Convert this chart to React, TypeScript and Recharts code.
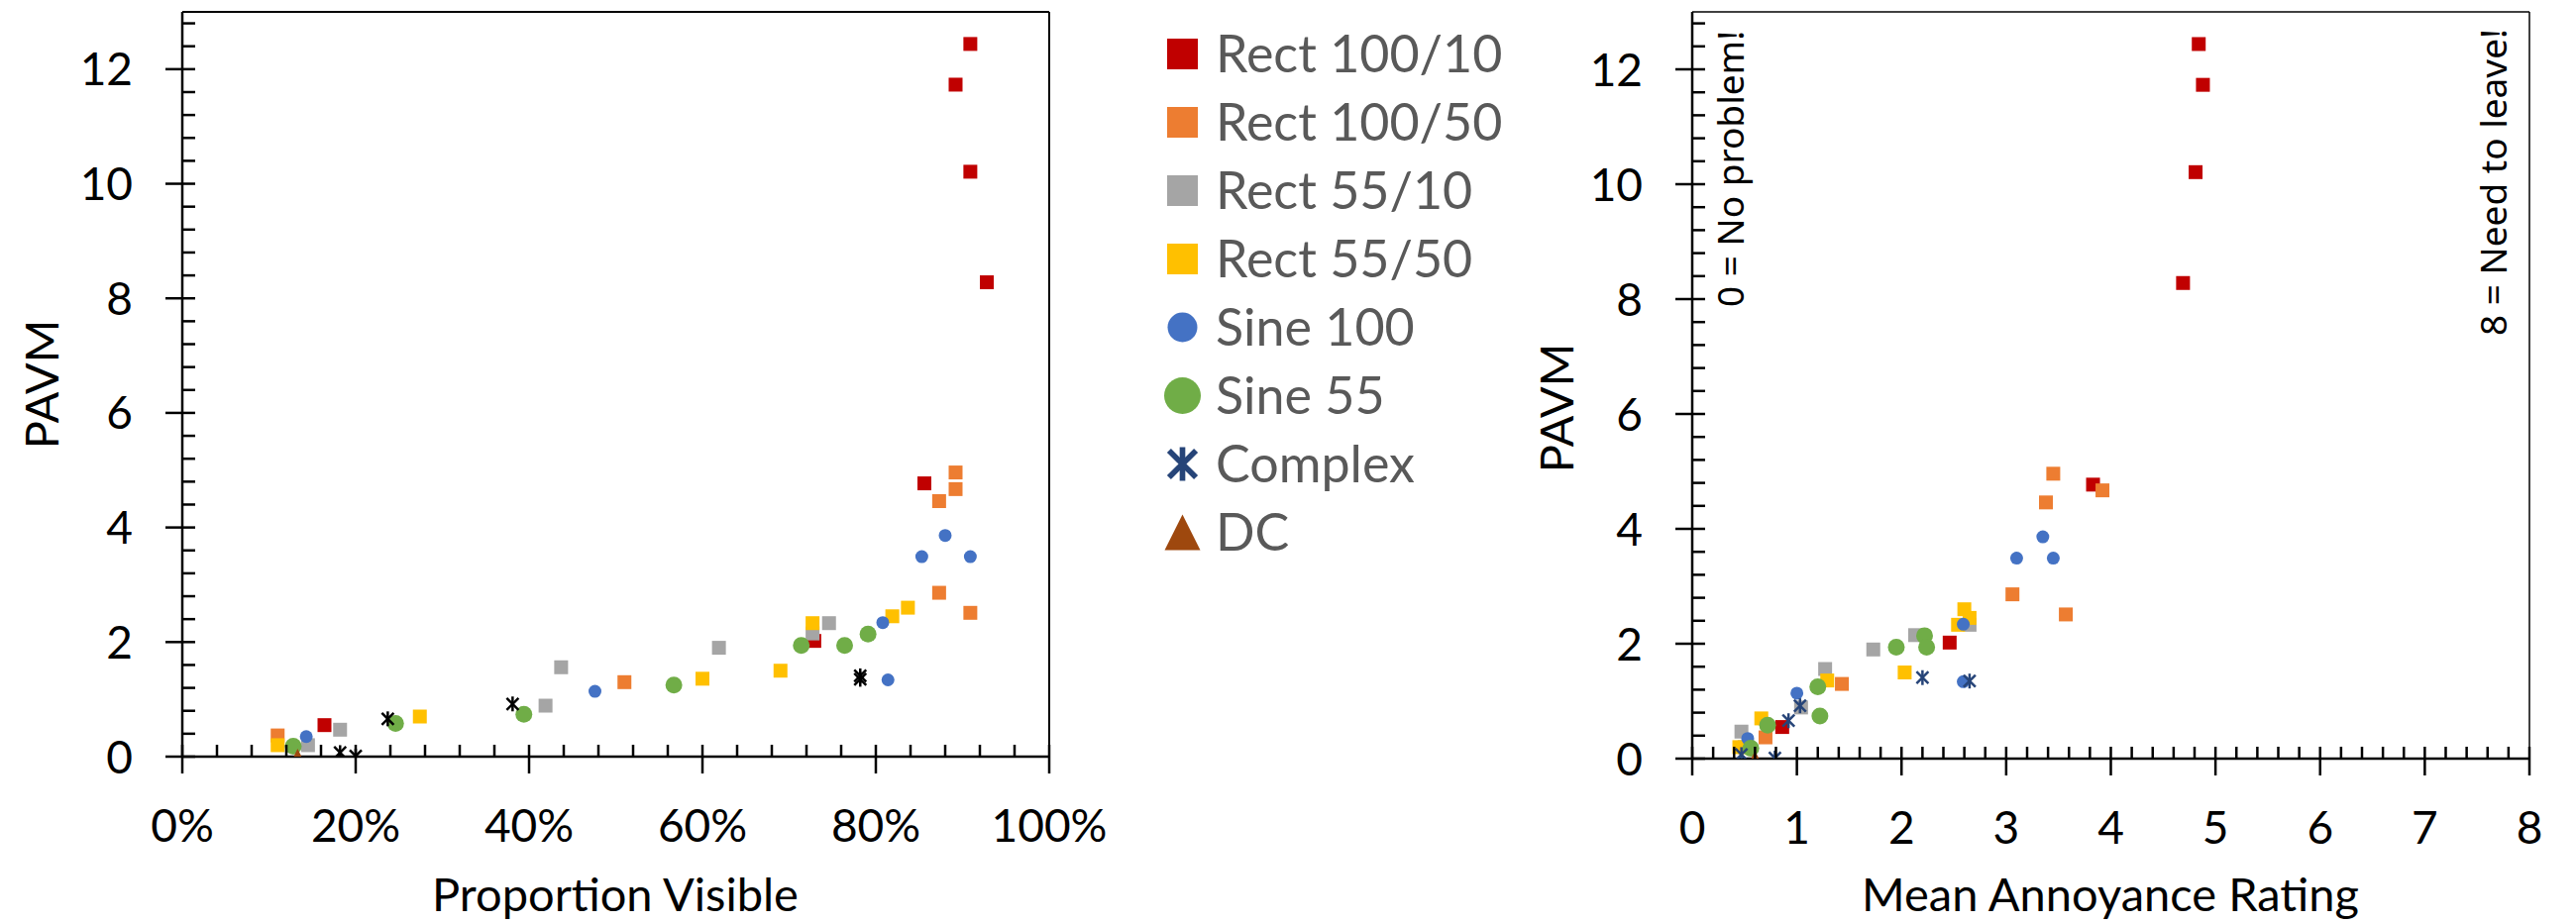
import React from 'react';
import { ScatterChart, Scatter, XAxis, YAxis, ReferenceLine, Customized } from 'recharts';

// ---------- data ----------
const seriesNames = ['Rect 100/10', 'Rect 100/50', 'Rect 55/10', 'Rect 55/50', 'Sine 100', 'Sine 55', 'Complex', 'DC'];

// Rect 100/10
const rect100x10Visible = [90.9, 89.2, 90.9, 92.8, 85.6, 72.9, 16.4];
const rect100x10Rating = [4.84, 4.88, 4.81, 4.69, 3.83, 2.46, 0.86];
const rect100x10Pavm = [12.44, 11.73, 10.21, 8.28, 4.77, 2.02, 0.55];
// Rect 100/50
const rect100x50Visible = [89.2, 89.2, 87.3, 87.3, 90.9, 51.0, 11.0];
const rect100x50Rating = [3.45, 3.92, 3.38, 3.06, 3.57, 1.43, 0.7];
const rect100x50Pavm = [4.96, 4.67, 4.46, 2.86, 2.51, 1.3, 0.37];
// Rect 55/10
const rect55x10Visible = [74.6, 72.7, 61.9, 43.7, 41.9, 18.2, 14.5];
const rect55x10Rating = [2.65, 2.13, 1.73, 1.27, 1.04, 0.47, 0.5];
const rect55x10Pavm = [2.33, 2.15, 1.9, 1.56, 0.89, 0.47, 0.2];
// Rect 55/50
const rect55x50Visible = [83.7, 81.9, 72.7, 69.0, 60.0, 27.4, 11.0];
const rect55x50Rating = [2.6, 2.65, 2.54, 2.03, 1.29, 0.66, 0.45];
const rect55x50Pavm = [2.6, 2.45, 2.33, 1.5, 1.36, 0.7, 0.2];
// Sine 100
const sine100Visible = [88.0, 85.3, 90.9, 80.8, 81.4, 47.6, 14.3];
const sine100Rating = [3.35, 3.1, 3.45, 2.59, 2.59, 1.0, 0.53];
const sine100Pavm = [3.86, 3.49, 3.49, 2.34, 1.34, 1.14, 0.35];
// Sine 55
const sine55Visible = [79.1, 71.4, 76.4, 56.7, 39.4, 24.6, 12.8];
const sine55Rating = [2.22, 1.95, 2.24, 1.2, 1.22, 0.72, 0.56];
const sine55Pavm = [2.14, 1.94, 1.94, 1.25, 0.74, 0.58, 0.18];
// Complex
const complexVisible = [78.2, 78.2, 38.1, 23.7, 18.2, 20.0];
const complexRating = [2.2, 2.65, 1.03, 0.92, 0.47, 0.79];
const complexPavm = [1.41, 1.35, 0.92, 0.66, 0.07, 0.01];
// DC
const dcVisible = [13.3];
const dcRating = [0.6];
const dcPavm = [0.0];

// tick labels
const leftXMajorTicks = [0, 20, 40, 60, 80, 100];
const rightXMajorTicks = [0, 1, 2, 3, 4, 5, 6, 7, 8];
const yMajorTicks = [0, 2, 4, 6, 8, 10, 12];

// ---------- styling ----------
const FONT = 'Lato, "Open Sans", sans-serif';
const NOTE_FONT = '"Noto Sans", "Open Sans", sans-serif';

type Kind = 'square' | 'circle' | 'triangle' | 'star';
const seriesStyle: { color: string; kind: Kind; size: number; legendSize: number; leftColor?: string }[] = [
  { color: '#C00000', kind: 'square', size: 14, legendSize: 31 },
  { color: '#ED7D31', kind: 'square', size: 14, legendSize: 31 },
  { color: '#A5A5A5', kind: 'square', size: 14, legendSize: 31 },
  { color: '#FFC000', kind: 'square', size: 14, legendSize: 31 },
  { color: '#4472C4', kind: 'circle', size: 13, legendSize: 30 },
  { color: '#70AD47', kind: 'circle', size: 17, legendSize: 37 },
  { color: '#264478', kind: 'star', size: 15, legendSize: 34, leftColor: '#000000' },
  { color: '#9E480E', kind: 'triangle', size: 16, legendSize: 36 },
];

const visibleArr = [rect100x10Visible, rect100x50Visible, rect55x10Visible, rect55x50Visible, sine100Visible, sine55Visible, complexVisible, dcVisible];
const ratingArr = [rect100x10Rating, rect100x50Rating, rect55x10Rating, rect55x50Rating, sine100Rating, sine55Rating, complexRating, dcRating];
const pavmArr = [rect100x10Pavm, rect100x50Pavm, rect55x10Pavm, rect55x50Pavm, sine100Pavm, sine55Pavm, complexPavm, dcPavm];

const leftData = seriesNames.map((_, s) => visibleArr[s].map((x, i) => ({ x, y: pavmArr[s][i] })));
const rightData = seriesNames.map((_, s) => ratingArr[s].map((x, i) => ({ x, y: pavmArr[s][i] })));

// minor tick positions
const leftXTicks: number[] = [];
for (let i = 0; i <= 25; i++) leftXTicks.push(i * 4);
const rightXTicks: number[] = [];
for (let i = 0; i <= 40; i++) rightXTicks.push(Math.round(i * 2) / 10);
const yTicks: number[] = [];
for (let i = 0; i <= 32; i++) yTicks.push(Math.round(i * 4) / 10);

function isMajor(v: number, majors: number[]) {
  return majors.some((m) => Math.abs(m - v) < 1e-6);
}

function Marker({ cx, cy, kind, color, size }: { cx: number; cy: number; kind: Kind; color: string; size: number }) {
  if (cx == null || cy == null) return null;
  if (kind === 'square') return <rect x={cx - size / 2} y={cy - size / 2} width={size} height={size} fill={color} />;
  if (kind === 'circle') return <circle cx={cx} cy={cy} r={size / 2} fill={color} />;
  if (kind === 'triangle')
    return <polygon points={`${cx},${cy - size / 2} ${cx + size / 2},${cy + size / 2} ${cx - size / 2},${cy + size / 2}`} fill={color} />;
  const r = size / 2;
  const d = r * 0.8;
  const sw = Math.max(2.2, size / 6);
  return (
    <g stroke={color} strokeWidth={sw}>
      <line x1={cx} y1={cy - r} x2={cx} y2={cy + r} />
      <line x1={cx - d} y1={cy - d} x2={cx + d} y2={cy + d} />
      <line x1={cx - d} y1={cy + d} x2={cx + d} y2={cy - d} />
    </g>
  );
}

const AXIS_W = 2.5;

function makeXTick(majors: number[], fmt: (v: number) => string) {
  return (props: any) => {
    const { x, y, payload } = props;
    const v = payload.value;
    const major = isMajor(v, majors);
    return (
      <g>
        <line x1={x} x2={x} y1={y - 12} y2={major ? y + 17 : y} stroke="#000" strokeWidth={AXIS_W} />
        {major && (
          <text x={x} y={y + 86} textAnchor="middle" fontSize={46} fontFamily={FONT} fill="#000">
            {fmt(v)}
          </text>
        )}
      </g>
    );
  };
}

function YTick(props: any) {
  const { x, y, payload } = props;
  const v = payload.value;
  const major = isMajor(v, yMajorTicks);
  return (
    <g>
      <line x1={major ? x - 17 : x} x2={x + 13} y1={y} y2={y} stroke="#000" strokeWidth={AXIS_W} />
      {major && (
        <text x={x - 50} y={y} dy="0.36em" textAnchor="end" fontSize={46} fontFamily={FONT} fill="#000">
          {v}
        </text>
      )}
    </g>
  );
}

const LeftXTick = makeXTick(leftXMajorTicks, (v) => `${v}%`);
const RightXTick = makeXTick(rightXMajorTicks, (v) => `${v}`);

function LeftTitles() {
  return (
    <g fontFamily={FONT} fill="#000">
      <text x={621} y={920} textAnchor="middle" fontSize={47}>Proportion Visible</text>
      <text x={59} y={388} textAnchor="middle" fontSize={47} transform="rotate(-90 59 388)">PAVM</text>
    </g>
  );
}

function RightTitles() {
  return (
    <g fill="#000">
      <text x={630} y={920} textAnchor="middle" fontSize={47} fontFamily={FONT}>Mean Annoyance Rating</text>
      <text x={88} y={412} textAnchor="middle" fontSize={47} fontFamily={FONT} transform="rotate(-90 88 412)">PAVM</text>
      <text x={260} y={310} textAnchor="start" fontSize={37} fontFamily={NOTE_FONT} transform="rotate(-90 260 310)">0 = No problem!</text>
      <text x={1030} y={339} textAnchor="start" fontSize={37} fontFamily={NOTE_FONT} transform="rotate(-90 1030 339)">8 = Need to leave!</text>
    </g>
  );
}

function Legend() {
  return (
    <svg width={420} height={600} style={{ position: 'absolute', left: 1150, top: 0 }}>
      {seriesNames.map((name, i) => {
        const st = seriesStyle[i];
        const cy = 54.5 + 69 * i;
        return (
          <g key={name}>
            <Marker cx={1193.5 - 1150} cy={cy} kind={st.kind} color={st.color} size={st.legendSize} />
            <text x={1227 - 1150} y={cy + 18} fontSize={52} fontFamily={FONT} fill="#595959">
              {name}
            </text>
          </g>
        );
      })}
    </svg>
  );
}

export default function App() {
  return (
    <div style={{ position: 'absolute', left: 0, top: 0, width: 2600, height: 933, background: '#fff', overflow: 'hidden' }}>
      <div style={{ position: 'absolute', left: 0, top: 0 }}>
        <ScatterChart width={1140} height={933} margin={{ top: 12, right: 81, bottom: 0, left: 0 }}>
          <XAxis
            type="number"
            dataKey="x"
            domain={[0, 100]}
            ticks={leftXTicks}
            interval={0}
            tickSize={0}
            tickMargin={0}
            tickLine={false}
            tick={LeftXTick}
            height={169}
            axisLine={{ stroke: '#000', strokeWidth: AXIS_W }}
            allowDataOverflow
          />
          <YAxis
            type="number"
            dataKey="y"
            domain={[0, 13]}
            ticks={yTicks}
            interval={0}
            tickSize={0}
            tickMargin={0}
            tickLine={false}
            tick={YTick}
            width={184}
            axisLine={{ stroke: '#000', strokeWidth: AXIS_W }}
            allowDataOverflow
          />
          <ReferenceLine y={13} stroke="#000" strokeWidth={2} />
          <ReferenceLine x={100} stroke="#000" strokeWidth={2} />
          {seriesNames.map((name, s) => {
            const st = seriesStyle[s];
            const col = st.leftColor || st.color;
            return (
              <Scatter
                key={name}
                name={name}
                data={leftData[s]}
                isAnimationActive={false}
                shape={(p: any) => <Marker cx={p.cx} cy={p.cy} kind={st.kind} color={col} size={st.size} />}
              />
            );
          })}
          <Customized component={LeftTitles} />
        </ScatterChart>
      </div>
      <Legend />
      <div style={{ position: 'absolute', left: 1500, top: 0 }}>
        <ScatterChart width={1100} height={933} margin={{ top: 12, right: 47, bottom: 0, left: 0 }}>
          <XAxis
            type="number"
            dataKey="x"
            domain={[0, 8]}
            ticks={rightXTicks}
            interval={0}
            tickSize={0}
            tickMargin={0}
            tickLine={false}
            tick={RightXTick}
            height={167}
            axisLine={{ stroke: '#000', strokeWidth: AXIS_W }}
            allowDataOverflow
          />
          <YAxis
            type="number"
            dataKey="y"
            domain={[0, 13]}
            ticks={yTicks}
            interval={0}
            tickSize={0}
            tickMargin={0}
            tickLine={false}
            tick={YTick}
            width={208}
            axisLine={{ stroke: '#000', strokeWidth: AXIS_W }}
            allowDataOverflow
          />
          <ReferenceLine y={13} stroke="#000" strokeWidth={1.5} />
          <ReferenceLine x={8} stroke="#000" strokeWidth={1.5} />
          {seriesNames.map((name, s) => {
            const st = seriesStyle[s];
            return (
              <Scatter
                key={name}
                name={name}
                data={rightData[s]}
                isAnimationActive={false}
                shape={(p: any) => <Marker cx={p.cx} cy={p.cy} kind={st.kind} color={st.color} size={st.size} />}
              />
            );
          })}
          <Customized component={RightTitles} />
        </ScatterChart>
      </div>
    </div>
  );
}
